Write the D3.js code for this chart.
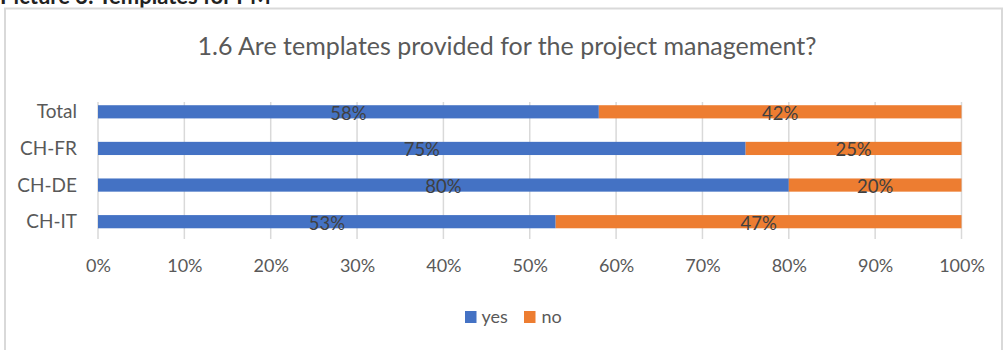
<!DOCTYPE html>
<html>
<head>
<meta charset="utf-8">
<script src="https://cdn.jsdelivr.net/npm/d3@7"></script>
<style>
  html, body { margin: 0; padding: 0; background: #fff; }
  svg { display: block; font-family: Lato, "Open Sans", sans-serif; }
</style>
</head>
<body>
<svg id="chart" width="1003" height="350"></svg>
<script>
// Survey answers per region (share of respondents)
const categories = ["Total", "CH-FR", "CH-DE", "CH-IT"];
const yesValues = [0.58, 0.75, 0.80, 0.53];
const noValues  = [0.42, 0.25, 0.20, 0.47];
const seriesNames = ["yes", "no"];
const tickValues = [0, 0.1, 0.2, 0.3, 0.4, 0.5, 0.6, 0.7, 0.8, 0.9, 1.0];
const titleText = "1.6 Are templates provided for the project management?";
const captionText = "Picture 3: Templates for PM";

const colors = { yes: "#4472C4", no: "#ED7D31" };

const svg = d3.select("#chart");

// caption above the chart frame (runs off the top edge)
svg.append("text")
  .attr("x", 0).attr("y", 4)
  .attr("font-size", 22).attr("font-weight", "bold")
  .attr("fill", "#222")
  .text(captionText);

// chart frame
svg.append("rect")
  .attr("x", 5).attr("y", 8.5)
  .attr("width", 997).attr("height", 400)
  .attr("fill", "#fff")
  .attr("stroke", "#d9d9d9").attr("stroke-width", 2);

// title
svg.append("text")
  .attr("x", 507).attr("y", 55)
  .attr("text-anchor", "middle")
  .attr("font-size", 25)
  .attr("fill", "#595959")
  .text(titleText);

const x = d3.scaleLinear().domain([0, 1]).range([98, 961.5]);
const y = d3.scaleBand().domain(categories).range([93.5, 240]).paddingInner(0.64).paddingOuter(0.32);

// vertical gridlines
svg.append("g")
  .selectAll("line")
  .data(tickValues)
  .join("line")
  .attr("x1", d => x(d)).attr("x2", d => x(d))
  .attr("y1", 102).attr("y2", 239)
  .attr("stroke", "#d9d9d9").attr("stroke-width", 1.5);

// stacked bars
const rows = categories.map((c, i) => ({ cat: c, yes: yesValues[i], no: noValues[i] }));
const stacked = d3.stack().keys(seriesNames)(rows);

const layers = svg.append("g").selectAll("g")
  .data(stacked)
  .join("g")
  .attr("fill", d => colors[d.key]);

layers.selectAll("rect")
  .data(d => d)
  .join("rect")
  .attr("x", d => x(d[0]))
  .attr("width", d => x(d[1]) - x(d[0]))
  .attr("y", d => y(d.data.cat))
  .attr("height", y.bandwidth());

// value labels centred in each segment
layers.selectAll("text")
  .data(d => d)
  .join("text")
  .attr("x", d => (x(d[0]) + x(d[1])) / 2)
  .attr("y", d => y(d.data.cat) + y.bandwidth() / 2 + 1.5)
  .attr("dy", "0.35em")
  .attr("text-anchor", "middle")
  .attr("font-size", 18.5)
  .attr("fill", "#404040")
  .text(d => d3.format(".0%")(d[1] - d[0]));

// category axis labels
svg.append("g")
  .selectAll("text")
  .data(categories)
  .join("text")
  .attr("x", 77)
  .attr("y", d => y(d) + y.bandwidth() / 2)
  .attr("dy", "0.35em")
  .attr("text-anchor", "end")
  .attr("font-size", 19)
  .attr("fill", "#595959")
  .text(d => d);

// percentage axis
const xAxis = d3.axisBottom(x)
  .tickValues(tickValues)
  .tickFormat(d3.format(".0%"))
  .tickSize(0)
  .tickPadding(0);

const axisG = svg.append("g")
  .attr("transform", "translate(0,259)")
  .call(xAxis);
axisG.select(".domain").remove();
axisG.selectAll("text")
  .attr("font-family", "Lato, 'Open Sans', sans-serif")
  .attr("font-size", 18)
  .attr("fill", "#595959");

// legend
const legendItems = [
  { key: "yes", sx: 465, tx: 481.5 },
  { key: "no", sx: 524, tx: 541.5 }
];
const legend = svg.append("g");
legend.selectAll("rect")
  .data(legendItems)
  .join("rect")
  .attr("x", d => d.sx).attr("y", 311)
  .attr("width", 11.5).attr("height", 12)
  .attr("fill", d => colors[d.key]);
legend.selectAll("text")
  .data(legendItems)
  .join("text")
  .attr("x", d => d.tx).attr("y", 317)
  .attr("dy", "0.35em")
  .attr("font-size", 18)
  .attr("fill", "#595959")
  .text(d => d.key);
</script>
</body>
</html>
